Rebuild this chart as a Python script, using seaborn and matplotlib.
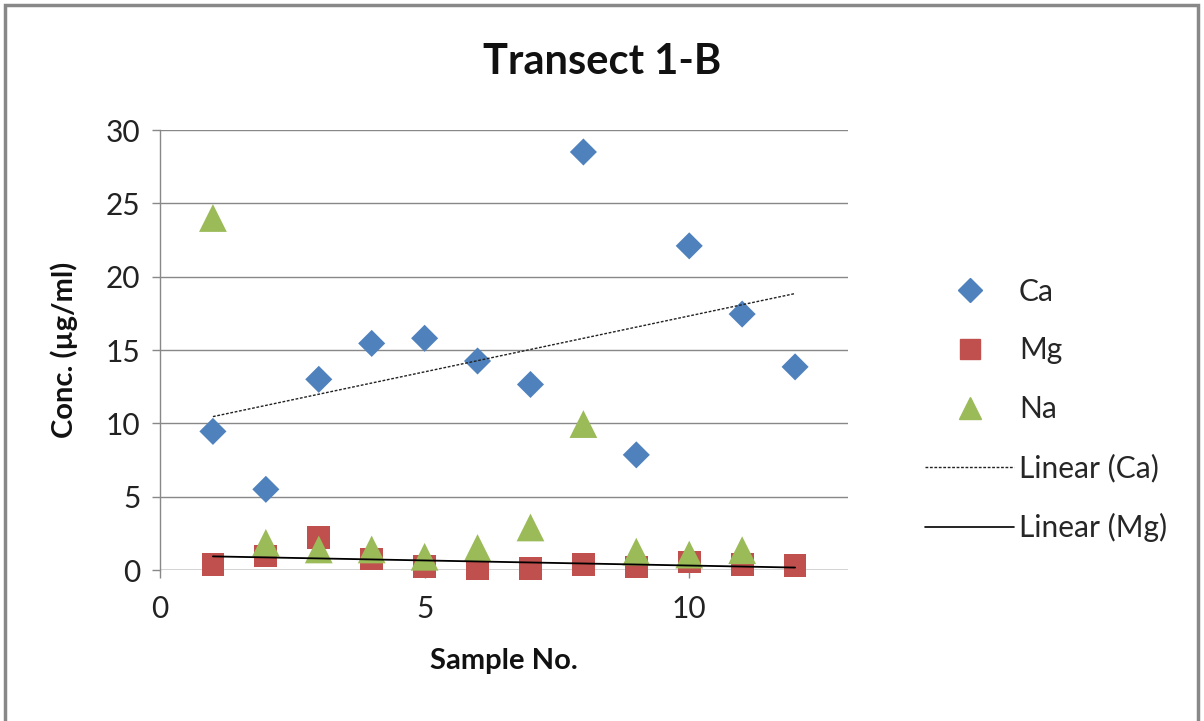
import numpy as np
import pandas as pd
import matplotlib
matplotlib.use("Agg")
import matplotlib.pyplot as plt
from matplotlib.lines import Line2D
from matplotlib.patches import Rectangle
import seaborn as sns

sample_no = [1, 2, 3, 4, 5, 6, 7, 8, 9, 10, 11, 12]
ca = [9.45, 5.5, 13.0, 15.45, 15.8, 14.25, 12.65, 28.5, 7.85, 22.1, 17.45, 13.85]
mg = [0.4, 0.95, 2.2, 0.75, 0.22, 0.1, 0.1, 0.4, 0.2, 0.55, 0.4, 0.3]
na = [24.0, 1.85, 1.4, 1.4, 0.9, 1.5, 2.9, 9.95, 1.25, 1.05, 1.35]
na_x = sample_no[:11]

title = "Transect 1-B"
x_label = "Sample No."
y_label = "Conc. (µg/ml)"
x_ticks = [0, 5, 10]
y_ticks = [0, 5, 10, 15, 20, 25, 30]

c_ca = "#4F81BD"
c_mg = "#C0504D"
c_na = "#9BBB59"

sns.set_theme(style="white")
plt.rcParams["font.family"] = ["Lato", "DejaVu Sans"]

fig = plt.figure(figsize=(12.04, 7.21), dpi=100)
ax = fig.add_axes([160/1204, 151/721, 688/1204, 440/721])

df_ca = pd.DataFrame({"x": sample_no, "y": ca})
df_mg = pd.DataFrame({"x": sample_no, "y": mg})
df_na = pd.DataFrame({"x": na_x, "y": na})

sns.scatterplot(data=df_ca, x="x", y="y", ax=ax, marker="D", s=190, color=c_ca,
                edgecolor="none", zorder=4, clip_on=False)
sns.scatterplot(data=df_mg, x="x", y="y", ax=ax, marker="s", s=270, color=c_mg,
                edgecolor="none", zorder=3, clip_on=False)
sns.scatterplot(data=df_na, x="x", y="y", ax=ax, marker="^", s=400, color=c_na,
                edgecolor="none", zorder=4, clip_on=False)
sns.regplot(data=df_ca, x="x", y="y", ax=ax, scatter=False, ci=None, truncate=True,
            line_kws=dict(color="#222222", lw=1.0, linestyle=(0, (2, 1.2)), zorder=5))
sns.regplot(data=df_mg, x="x", y="y", ax=ax, scatter=False, ci=None, truncate=True,
            line_kws=dict(color="black", lw=1.3, zorder=5))

ax.set_xlim(0, 13)
ax.set_ylim(0, 30)
ax.set_xticks(x_ticks)
ax.set_yticks(y_ticks)
ax.yaxis.grid(True, color="#888888", lw=1.0)
ax.xaxis.grid(False)
for s in ["top", "right", "bottom"]:
    ax.spines[s].set_visible(False)
ax.spines["left"].set_color("#888888")
ax.spines["left"].set_linewidth(1.0)
ax.axhline(0, color="#888888", lw=1.0, zorder=1)
ax.tick_params(axis="both", which="both", direction="out", length=6, width=1.0,
               color="#888888", labelsize=21.5, labelcolor="#222222")
ax.tick_params(axis="x", bottom=True, pad=12)
ax.tick_params(axis="y", left=True, pad=8)
ax.set_xlabel(x_label, fontsize=21, fontweight="bold", labelpad=18, color="#111111")
ax.set_ylabel(y_label, fontsize=21, fontweight="bold", labelpad=20, color="#111111")
fig.text(602/1204, 1 - 62/721, title, fontsize=30, fontweight="bold", color="#111111",
         ha="center", va="center")

handles = [
    Line2D([], [], marker="D", color=c_ca, linestyle="none", markersize=12),
    Line2D([], [], marker="s", color=c_mg, linestyle="none", markersize=15),
    Line2D([], [], marker="^", color=c_na, linestyle="none", markersize=16),
    Line2D([], [], color="#222222", lw=1.0, linestyle=(0, (2, 1.2))),
    Line2D([], [], color="black", lw=1.2),
]
labels = ["Ca", "Mg", "Na", "Linear (Ca)", "Linear (Mg)"]
fig.legend(handles, labels, loc="center left", bbox_to_anchor=(898/1204, 1 - 410/721),
           frameon=False, fontsize=21.5, labelspacing=1.03, handlelength=3.0,
           handletextpad=0.15, markerscale=1.0)

fig.patches.append(Rectangle((5/1204, -0.05), 1193/1204, 1.0 - 5/721 + 0.05,
                             transform=fig.transFigure, fill=False,
                             edgecolor="#888888", lw=2.5))

fig.savefig("out.png", dpi=100, facecolor="white")
